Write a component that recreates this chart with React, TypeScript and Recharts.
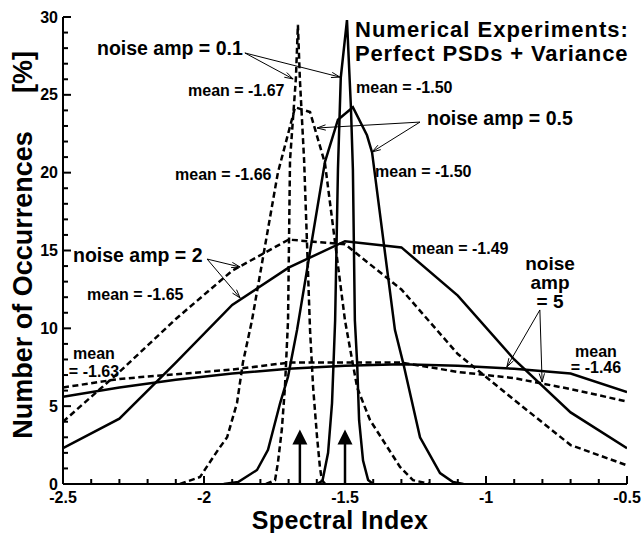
import { LineChart, Line, XAxis, YAxis, ReferenceLine } from "recharts";

// axis ticks
const xTicks = [-2.5, -2, -1.5, -1, -0.5];
const xMinorTicks = [-2.4, -2.3, -2.2, -2.1, -1.9, -1.8, -1.7, -1.6, -1.4, -1.3, -1.2, -1.1, -0.9, -0.8, -0.7, -0.6];
const yTicks = [0, 5, 10, 15, 20, 25, 30];
const yMinorTicks = [1, 2, 3, 4, 6, 7, 8, 9, 11, 12, 13, 14, 16, 17, 18, 19, 21, 22, 23, 24, 26, 27, 28, 29];

// noise amp = 0.1
const amp01DashedX = [-1.78, -1.748, -1.738, -1.724, -1.713, -1.702, -1.695, -1.674, -1.667, -1.66, -1.645, -1.624, -1.613, -1.599, -1.589, -1.582, -1.57];
const amp01DashedY = [0, 0.25, 1.35, 3.5, 6.2, 10.5, 20.8, 26.1, 29.5, 26, 20.8, 9.9, 6.2, 3.0, 1.1, 0.25, 0];
const amp01SolidX = [-1.6, -1.58, -1.56, -1.546, -1.535, -1.525, -1.515, -1.493, -1.479, -1.472, -1.465, -1.457, -1.45, -1.436, -1.418, -1.4];
const amp01SolidY = [0, 0.2, 2.0, 5.2, 10.5, 20.2, 26.1, 29.8, 24.2, 20.2, 10.5, 7.8, 4.1, 1.5, 0.25, 0];

// noise amp = 0.5
const amp05DashedX = [-2.085, -2.014, -1.95, -1.918, -1.883, -1.862, -1.83, -1.738, -1.677, -1.624, -1.571, -1.5, -1.457, -1.411, -1.351, -1.305, -1.259, -1.2];
const amp05DashedY = [0, 0.45, 2.2, 3.0, 5.2, 7.8, 10.5, 20.0, 24.2, 23.9, 20.6, 10.5, 6.2, 4.1, 2.4, 1.1, 0.25, 0];
const amp05SolidX = [-1.93, -1.879, -1.812, -1.773, -1.73, -1.702, -1.67, -1.571, -1.525, -1.472, -1.422, -1.404, -1.323, -1.294, -1.234, -1.163, -1.117, -1.08];
const amp05SolidY = [0, 0.13, 0.9, 2.2, 5.2, 6.9, 9.9, 20.7, 23.4, 24.2, 22.4, 21.3, 9.9, 7.8, 3.0, 0.7, 0.13, 0];

// noise amp = 2 and 5 share a coarse grid
const broadX = [-2.5, -2.3, -2.1, -1.9, -1.7, -1.5, -1.3, -1.1, -0.9, -0.7, -0.5];
const amp2DashedY = [4.0, 7.2, 10.6, 13.7, 15.7, 15.4, 12.5, 8.35, 5.4, 2.5, 1.2];
const amp2SolidY = [2.3, 4.2, 7.8, 11.5, 13.9, 15.6, 15.2, 12.1, 8.0, 4.6, 2.3];
const amp5DashedY = [6.2, 6.75, 7.05, 7.35, 7.8, 7.8, 7.8, 7.2, 6.8, 6.1, 5.3];
const amp5SolidY = [5.6, 6.2, 6.7, 7.1, 7.4, 7.6, 7.7, 7.6, 7.4, 7.1, 5.9];

// annotation pointers: [fromX, fromY, toX, toY]
const pointers = [
  [-1.855, 27.69, -1.684, 26.02],
  [-1.855, 27.69, -1.518, 26.14],
  [-1.234, 23.25, -1.599, 22.87],
  [-1.234, 23.25, -1.404, 21.33],
  [-1.989, 14.45, -1.872, 13.94],
  [-1.989, 14.45, -1.872, 11.95],
  [-0.809, 11.18, -0.926, 7.52],
  [-0.809, 11.18, -0.801, 6.55],
];
// input spectral indices marked with arrows
const trueIndices = [-1.66, -1.5];
const trueArrowTop = 3.5;

const zip = (xs: number[], ys: number[]) => xs.map((x, i) => ({ x, y: ys[i] }));

const series = [
  { key: "a01d", data: zip(amp01DashedX, amp01DashedY), dashed: true },
  { key: "a01s", data: zip(amp01SolidX, amp01SolidY), dashed: false },
  { key: "a05d", data: zip(amp05DashedX, amp05DashedY), dashed: true },
  { key: "a05s", data: zip(amp05SolidX, amp05SolidY), dashed: false },
  { key: "a2d", data: zip(broadX, amp2DashedY), dashed: true },
  { key: "a2s", data: zip(broadX, amp2SolidY), dashed: false },
  { key: "a5d", data: zip(broadX, amp5DashedY), dashed: true },
  { key: "a5s", data: zip(broadX, amp5SolidY), dashed: false },
];

const FONT = "'Liberation Sans', Arial, Helvetica, sans-serif";
const frame = { stroke: "#000", strokeWidth: 2 };
const allX = [...xTicks, ...xMinorTicks].sort((a, b) => a - b);
const allY = [...yTicks, ...yMinorTicks].sort((a, b) => a - b);
const MAJOR = 8;
const MINOR = 5;

// tick marks point into the plot; labels only on bottom and left
function makeTick(side: "bottom" | "top" | "left" | "right", majors: number[], label: boolean) {
  return (props: any) => {
    const x = Number(props.x);
    const y = Number(props.y);
    const v = props.payload.value as number;
    const major = majors.includes(v);
    const len = major ? MAJOR : MINOR;
    let d = "";
    if (side === "bottom") d = `M${x},${y}V${y - len}`;
    else if (side === "top") d = `M${x},${y}V${y + len}`;
    else if (side === "left") d = `M${x},${y}H${x + len}`;
    else d = `M${x},${y}H${x - len}`;
    return (
      <g>
        <path d={d} stroke="#000" strokeWidth={2} fill="none" />
        {label && major && side === "bottom" && (
          <text x={x} y={y + 18.5} textAnchor="middle" fontSize={16} fontWeight={700} fontFamily={FONT} fill="#000">{String(v)}</text>
        )}
        {label && major && side === "left" && (
          <text x={x - 5} y={y + 5.5} textAnchor="end" fontSize={16} fontWeight={700} fontFamily={FONT} fill="#000">{String(v)}</text>
        )}
      </g>
    );
  };
}

function Pointer(props: any) {
  const { x1, y1, x2, y2 } = props;
  const a = Math.atan2(y2 - y1, x2 - x1);
  const len = 9;
  const s = 0.3;
  const ax = x2 - len * Math.cos(a - s);
  const ay = y2 - len * Math.sin(a - s);
  const bx = x2 - len * Math.cos(a + s);
  const by = y2 - len * Math.sin(a + s);
  return (
    <g>
      <line x1={x1} y1={y1} x2={x2} y2={y2} stroke="#000" strokeWidth={1} />
      <polyline points={`${ax},${ay} ${x2},${y2} ${bx},${by}`} fill="none" stroke="#000" strokeWidth={1} />
    </g>
  );
}

function UpArrow(props: any) {
  const { x1, y1, x2, y2 } = props;
  const head = 15;
  return (
    <g>
      <line x1={x1} y1={y1} x2={x2} y2={y2 + head - 1} stroke="#000" strokeWidth={2.5} />
      <polygon points={`${x2},${y2} ${x2 - 7.5},${y2 + head} ${x2 + 7.5},${y2 + head}`} fill="#000" />
    </g>
  );
}

const labels: { t: string; x: number; y: number; s: number; a?: "start" | "middle"; ls?: number }[] = [
  { t: "Numerical Experiments:", x: 355, y: 37, s: 22, ls: 1 },
  { t: "Perfect PSDs + Variance", x: 355, y: 61, s: 22, ls: 0.85 },
  { t: "noise amp = 0.1", x: 97, y: 55, s: 19.5 },
  { t: "mean = -1.67", x: 188, y: 96, s: 16 },
  { t: "mean = -1.50", x: 356, y: 93, s: 16 },
  { t: "noise amp = 0.5", x: 427, y: 125, s: 19.5 },
  { t: "mean = -1.66", x: 175, y: 180, s: 16 },
  { t: "mean = -1.50", x: 375, y: 177, s: 16 },
  { t: "noise amp = 2", x: 73, y: 262, s: 19.5 },
  { t: "mean = -1.65", x: 87, y: 300, s: 16 },
  { t: "mean = -1.49", x: 412, y: 254, s: 16 },
  { t: "noise", x: 550, y: 270, s: 19, a: "middle" },
  { t: "amp", x: 550, y: 289, s: 19, a: "middle" },
  { t: "= 5", x: 550, y: 308, s: 19, a: "middle" },
  { t: "mean", x: 94, y: 359, s: 16, a: "middle" },
  { t: "= -1.63", x: 94, y: 377, s: 16, a: "middle" },
  { t: "mean", x: 596, y: 357, s: 16, a: "middle" },
  { t: "= -1.46", x: 596, y: 373, s: 16, a: "middle" },
];

export default function App() {
  return (
    <div style={{ position: "absolute", left: 0, top: 0, width: 643, height: 533, background: "#fff" }}>
      <LineChart width={643} height={533} margin={{ top: 17, right: 16, bottom: 0, left: 0 }}>
        <XAxis xAxisId="b" type="number" dataKey="x" domain={[-2.5, -0.5]} ticks={allX} interval={0} allowDataOverflow
          orientation="bottom" height={49} tickSize={0} tickMargin={0} tickLine={false} axisLine={frame}
          tick={makeTick("bottom", xTicks, true)} />
        <XAxis xAxisId="t" type="number" dataKey="x" domain={[-2.5, -0.5]} ticks={allX} interval={0}
          orientation="top" height={0} tickSize={0} tickMargin={0} tickLine={false} axisLine={frame}
          tick={makeTick("top", xTicks, false)} />
        <YAxis yAxisId="l" type="number" domain={[0, 30]} ticks={allY} interval={0} allowDataOverflow
          orientation="left" width={63} tickSize={0} tickMargin={0} tickLine={false} axisLine={frame}
          tick={makeTick("left", yTicks, true)} />
        <YAxis yAxisId="r" type="number" domain={[0, 30]} ticks={allY} interval={0}
          orientation="right" width={0} tickSize={0} tickMargin={0} tickLine={false} axisLine={frame}
          tick={makeTick("right", yTicks, false)} />
        {series.map((s) => (
          <Line key={s.key} xAxisId="b" yAxisId="l" data={s.data} dataKey="y" type="linear" stroke="#000"
            strokeWidth={2.5} strokeDasharray={s.dashed ? "6 3.5" : undefined} dot={false} isAnimationActive={false} />
        ))}
        {pointers.map((p, i) => (
          <ReferenceLine key={`p${i}`} xAxisId="b" yAxisId="l" segment={[{ x: p[0], y: p[1] }, { x: p[2], y: p[3] }]}
            shape={(props: any) => <Pointer {...props} />} />
        ))}
        {trueIndices.map((x, i) => (
          <ReferenceLine key={`u${i}`} xAxisId="b" yAxisId="l" segment={[{ x, y: 0 }, { x, y: trueArrowTop }]}
            shape={(props: any) => <UpArrow {...props} />} />
        ))}
      </LineChart>
      <svg width={643} height={533} style={{ position: "absolute", left: 0, top: 0, pointerEvents: "none" }}>
        <g fontFamily={FONT} fontWeight={700} fill="#000">
          {labels.map((l, i) => (
            <text key={i} x={l.x} y={l.y} fontSize={l.s} letterSpacing={l.ls} textAnchor={l.a ?? "start"}>{l.t}</text>
          ))}
          <text x={340} y={529} fontSize={25} letterSpacing={0.4} textAnchor="middle">Spectral Index</text>
          <text transform="translate(32,285) rotate(-90)" fontSize={27} textAnchor="middle">Number of Occurrences</text>
          <text transform="translate(32,72) rotate(-90)" fontSize={27} textAnchor="middle">[%]</text>
        </g>
      </svg>
    </div>
  );
}
